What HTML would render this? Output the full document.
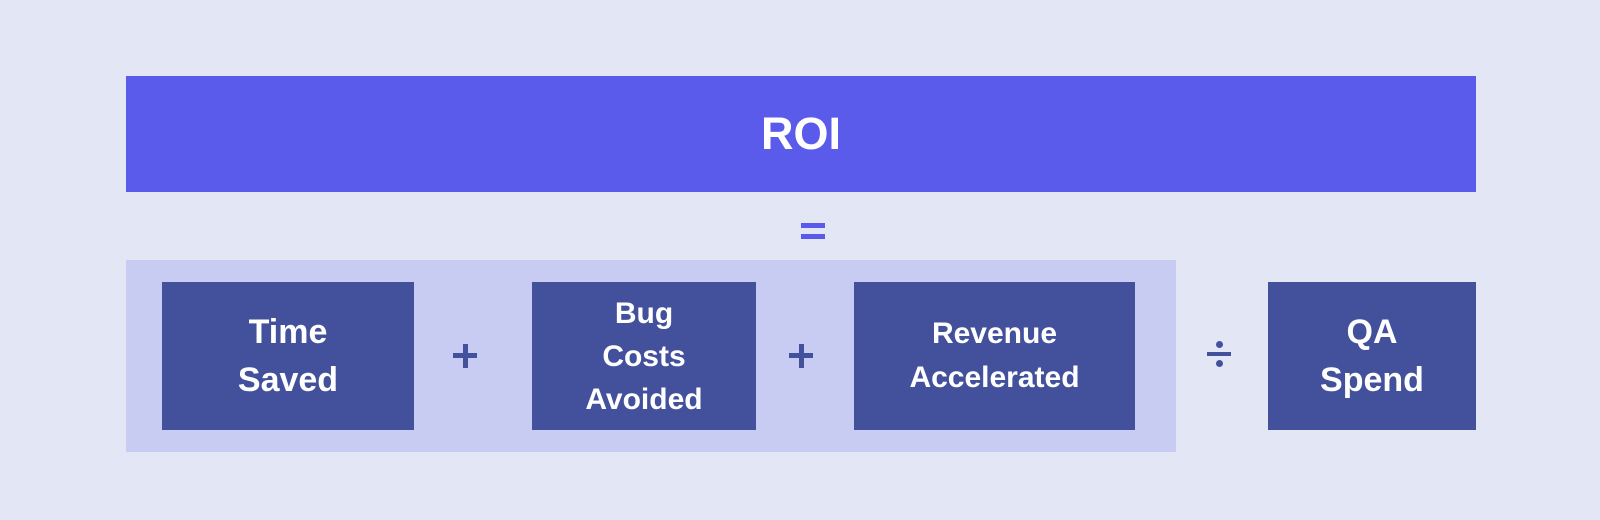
<!DOCTYPE html>
<html><head><meta charset="utf-8"><style>
html,body{margin:0;padding:0}
body{width:1600px;height:520px;background:#e3e7f5;position:relative;overflow:hidden;font-family:"Liberation Sans",sans-serif;color:#fff;font-weight:bold}
.a{position:absolute}
.box{position:absolute;background:#43519c;display:flex;align-items:center;justify-content:center;text-align:center}
.b{background:#43519c}
</style></head><body>
<div class="box" style="left:126px;top:76px;width:1350px;height:116px;background:#5a5bea;font-size:45px">ROI</div>
<div class="a" style="left:801px;top:223px;width:24px;height:5px;background:#5a5bea"></div>
<div class="a" style="left:801px;top:234px;width:24px;height:5px;background:#5a5bea"></div>
<div class="a" style="left:126px;top:260px;width:1050px;height:192px;background:#c8cbf2"></div>
<div class="box" style="left:162px;top:282px;width:252px;height:148px;font-size:34px;line-height:48px">Time<br>Saved</div>
<div class="box" style="left:532px;top:282px;width:224px;height:148px;font-size:30px;line-height:43px">Bug<br>Costs<br>Avoided</div>
<div class="box" style="left:854px;top:282px;width:281px;height:148px;font-size:30px;line-height:44px">Revenue<br>Accelerated</div>
<div class="box" style="left:1268px;top:282px;width:208px;height:148px;font-size:34px;line-height:48px">QA<br>Spend</div>
<!-- plus 1 -->
<div class="a b" style="left:453px;top:353px;width:24px;height:5px"></div>
<div class="a b" style="left:462.5px;top:343.5px;width:5px;height:24px"></div>
<!-- plus 2 -->
<div class="a b" style="left:789px;top:353px;width:24px;height:5px"></div>
<div class="a b" style="left:798.5px;top:343.5px;width:5px;height:24px"></div>
<!-- divide -->
<div class="a b" style="left:1207px;top:352px;width:24px;height:4px"></div>
<div class="a b" style="left:1215.5px;top:341px;width:7px;height:7px;border-radius:50%"></div>
<div class="a b" style="left:1215.5px;top:360px;width:7px;height:7px;border-radius:50%"></div>
</body></html>
